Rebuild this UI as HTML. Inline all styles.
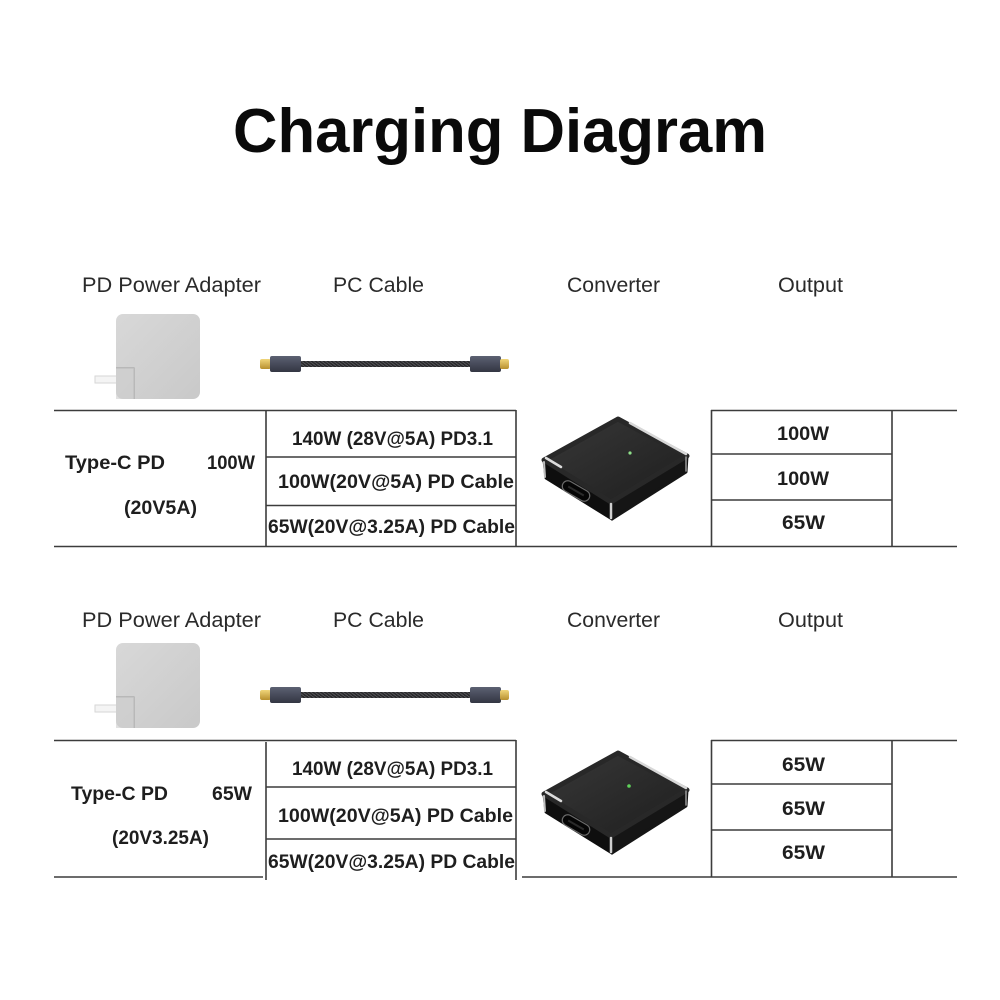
<!DOCTYPE html>
<html>
<head>
<meta charset="utf-8">
<style>
  html,body{margin:0;padding:0;background:#fff;}
  svg{display:block;}
  .hd{font-family:"Liberation Sans",Arial,sans-serif;font-size:21px;fill:#2a2a2a;}
  .bt{font-family:"Liberation Sans",Arial,sans-serif;font-weight:bold;font-size:19px;fill:#1e1e1e;}
  .ln{stroke:#3c3c3c;stroke-width:1.6;fill:none;}
</style>
</head>
<body>
<svg width="1000" height="1000" viewBox="0 0 1000 1000" xmlns="http://www.w3.org/2000/svg">
  <defs>
    <linearGradient id="adg" x1="0" y1="0" x2="1" y2="1">
      <stop offset="0" stop-color="#d8d8d8"/>
      <stop offset="1" stop-color="#c9c9c9"/>
    </linearGradient>
    <linearGradient id="topf" x1="0" y1="0" x2="1" y2="1">
      <stop offset="0" stop-color="#383838"/>
      <stop offset="1" stop-color="#1e1e1e"/>
    </linearGradient>
    <linearGradient id="hous" x1="0" y1="0" x2="0" y2="1">
      <stop offset="0" stop-color="#5c6172"/>
      <stop offset="0.5" stop-color="#474b5a"/>
      <stop offset="1" stop-color="#333642"/>
    </linearGradient>
    <linearGradient id="gold" x1="0" y1="0" x2="0" y2="1">
      <stop offset="0" stop-color="#f0d57a"/>
      <stop offset="1" stop-color="#b8902e"/>
    </linearGradient>
    <pattern id="braid" width="4" height="6" patternUnits="userSpaceOnUse">
      <rect width="4" height="6" fill="#2a2a2c"/>
      <path d="M0 0 L4 3 M0 3 L4 6" stroke="#5a5a5e" stroke-width="0.8"/>
    </pattern>
    <g id="conv">
      <!-- left-front face -->
      <path d="M544 460 L611 502 L612 519 L546 478 Z" fill="#0e0e0e" stroke="#0e0e0e" stroke-width="3" stroke-linejoin="round"/>
      <!-- right face -->
      <path d="M611 502 L687 456 L686 472 L612 519 Z" fill="#151515" stroke="#151515" stroke-width="3" stroke-linejoin="round"/>
      <!-- top face -->
      <path d="M544 460 L618 419 L687 456 L611 502 Z" fill="url(#topf)" stroke="#282828" stroke-width="5" stroke-linejoin="round"/>
      <!-- silver edges -->
      <path d="M630 423 L686 454" stroke="#d8d8d8" stroke-width="2.5" stroke-linecap="round"/>
      <path d="M546 458 L561 467" stroke="#dcdcdc" stroke-width="2.5" stroke-linecap="round"/>
      <path d="M544 462 L545 477" stroke="#bdbdbd" stroke-width="2" stroke-linecap="round"/>
      <path d="M611 504 L611 518" stroke="#cfcfcf" stroke-width="2.5" stroke-linecap="round"/>
      <path d="M686 457 L686 471" stroke="#9a9a9a" stroke-width="1.5" stroke-linecap="round"/>
      <!-- port -->
      <g transform="translate(576 491) rotate(30)">
        <rect x="-15" y="-5.5" width="30" height="11" rx="5.5" fill="#050505" stroke="#6a6a6a" stroke-width="1.2"/>
        <rect x="-9" y="-1" width="18" height="2" fill="#2a2a2a"/>
      </g>
    </g>
  </defs>

  <!-- Title -->
  <text x="233" y="152" font-family="Liberation Sans, Arial, sans-serif" font-weight="bold" font-size="62" fill="#0a0a0a" textLength="534" lengthAdjust="spacingAndGlyphs">Charging Diagram</text>

  <!-- ===== Section 1 ===== -->
  <text class="hd" x="82" y="292" textLength="179" lengthAdjust="spacingAndGlyphs">PD Power Adapter</text>
  <text class="hd" x="333" y="292" textLength="91" lengthAdjust="spacingAndGlyphs">PC Cable</text>
  <text class="hd" x="567" y="292" textLength="93" lengthAdjust="spacingAndGlyphs">Converter</text>
  <text class="hd" x="778" y="292" textLength="65" lengthAdjust="spacingAndGlyphs">Output</text>

  <!-- adapter 1 -->
  <rect x="95" y="376" width="22" height="7" fill="#f4f4f4" stroke="#d6d6d6" stroke-width="1"/>
  <rect x="116" y="314" width="84" height="85" rx="7" fill="url(#adg)"/>
  <path d="M116 368 L134 368 L134 399" stroke="#a9a9a9" stroke-width="1.2" fill="none"/>
  <rect x="116" y="368" width="18" height="31" fill="#cdcdcd" opacity="0.6"/>

  <!-- cable 1 -->
  <rect x="301" y="361" width="169" height="6" fill="url(#braid)"/>
  <rect x="260" y="359" width="11" height="10" rx="2" fill="url(#gold)"/>
  <rect x="270" y="356" width="31" height="16" rx="2" fill="url(#hous)"/>
  <rect x="470" y="356" width="31" height="16" rx="2" fill="url(#hous)"/>
  <rect x="500" y="359" width="9" height="10" rx="2" fill="url(#gold)"/>

  <!-- table 1 lines -->
  <line class="ln" x1="54" y1="410.5" x2="516" y2="410.5"/>
  <line class="ln" x1="711" y1="410.5" x2="957" y2="410.5"/>
  <line class="ln" x1="54" y1="546.5" x2="957" y2="546.5"/>
  <line class="ln" x1="266" y1="410" x2="266" y2="547"/>
  <line class="ln" x1="516" y1="410" x2="516" y2="547"/>
  <line class="ln" x1="266" y1="457" x2="516" y2="457"/>
  <line class="ln" x1="266" y1="505.5" x2="516" y2="505.5"/>
  <line class="ln" x1="711.5" y1="410" x2="711.5" y2="547"/>
  <line class="ln" x1="892" y1="410" x2="892" y2="547"/>
  <line class="ln" x1="711" y1="454" x2="892" y2="454"/>
  <line class="ln" x1="711" y1="500" x2="892" y2="500"/>

  <!-- table 1 text -->
  <text class="bt" x="65" y="469" textLength="100" lengthAdjust="spacingAndGlyphs">Type-C PD</text>
  <text class="bt" x="207" y="469" textLength="48" lengthAdjust="spacingAndGlyphs">100W</text>
  <text class="bt" x="124" y="514" textLength="73" lengthAdjust="spacingAndGlyphs">(20V5A)</text>
  <text class="bt" x="292" y="445" textLength="201" lengthAdjust="spacingAndGlyphs">140W (28V@5A) PD3.1</text>
  <text class="bt" x="278" y="488" textLength="236" lengthAdjust="spacingAndGlyphs">100W(20V@5A) PD Cable</text>
  <text class="bt" x="268" y="533" textLength="247" lengthAdjust="spacingAndGlyphs">65W(20V@3.25A) PD Cable</text>
  <text class="bt" x="777" y="440" textLength="52" lengthAdjust="spacingAndGlyphs">100W</text>
  <text class="bt" x="777" y="485" textLength="52" lengthAdjust="spacingAndGlyphs">100W</text>
  <text class="bt" x="782" y="529" textLength="43" lengthAdjust="spacingAndGlyphs">65W</text>

  <!-- converter 1 -->
  <use href="#conv"/>
  <circle cx="630" cy="453" r="1.6" fill="#8fe08a"/>

  <!-- ===== Section 2 ===== -->
  <text class="hd" x="82" y="627" textLength="179" lengthAdjust="spacingAndGlyphs">PD Power Adapter</text>
  <text class="hd" x="333" y="627" textLength="91" lengthAdjust="spacingAndGlyphs">PC Cable</text>
  <text class="hd" x="567" y="627" textLength="93" lengthAdjust="spacingAndGlyphs">Converter</text>
  <text class="hd" x="778" y="627" textLength="65" lengthAdjust="spacingAndGlyphs">Output</text>

  <!-- adapter 2 -->
  <rect x="95" y="705" width="22" height="7" fill="#f4f4f4" stroke="#d6d6d6" stroke-width="1"/>
  <rect x="116" y="643" width="84" height="85" rx="7" fill="url(#adg)"/>
  <path d="M116 697 L134 697 L134 728" stroke="#a9a9a9" stroke-width="1.2" fill="none"/>
  <rect x="116" y="697" width="18" height="31" fill="#cdcdcd" opacity="0.6"/>

  <!-- cable 2 -->
  <rect x="301" y="692" width="169" height="6" fill="url(#braid)"/>
  <rect x="260" y="690" width="11" height="10" rx="2" fill="url(#gold)"/>
  <rect x="270" y="687" width="31" height="16" rx="2" fill="url(#hous)"/>
  <rect x="470" y="687" width="31" height="16" rx="2" fill="url(#hous)"/>
  <rect x="500" y="690" width="9" height="10" rx="2" fill="url(#gold)"/>

  <!-- table 2 lines -->
  <line class="ln" x1="54" y1="740.5" x2="516" y2="740.5"/>
  <line class="ln" x1="711" y1="740.5" x2="957" y2="740.5"/>
  <line class="ln" x1="54" y1="877" x2="263" y2="877"/>
  <line class="ln" x1="522" y1="877" x2="957" y2="877"/>
  <line class="ln" x1="266" y1="742" x2="266" y2="880"/>
  <line class="ln" x1="516" y1="740" x2="516" y2="880"/>
  <line class="ln" x1="266" y1="787" x2="516" y2="787"/>
  <line class="ln" x1="266" y1="839" x2="516" y2="839"/>
  <line class="ln" x1="711.5" y1="740" x2="711.5" y2="877"/>
  <line class="ln" x1="892" y1="740" x2="892" y2="877"/>
  <line class="ln" x1="711" y1="784" x2="892" y2="784"/>
  <line class="ln" x1="711" y1="830" x2="892" y2="830"/>

  <!-- table 2 text -->
  <text class="bt" x="71" y="800" textLength="97" lengthAdjust="spacingAndGlyphs">Type-C PD</text>
  <text class="bt" x="212" y="800" textLength="40" lengthAdjust="spacingAndGlyphs">65W</text>
  <text class="bt" x="112" y="844" textLength="97" lengthAdjust="spacingAndGlyphs">(20V3.25A)</text>
  <text class="bt" x="292" y="775" textLength="201" lengthAdjust="spacingAndGlyphs">140W (28V@5A) PD3.1</text>
  <text class="bt" x="278" y="822" textLength="235" lengthAdjust="spacingAndGlyphs">100W(20V@5A) PD Cable</text>
  <text class="bt" x="268" y="868" textLength="247" lengthAdjust="spacingAndGlyphs">65W(20V@3.25A) PD Cable</text>
  <text class="bt" x="782" y="771" textLength="43" lengthAdjust="spacingAndGlyphs">65W</text>
  <text class="bt" x="782" y="815" textLength="43" lengthAdjust="spacingAndGlyphs">65W</text>
  <text class="bt" x="782" y="859" textLength="43" lengthAdjust="spacingAndGlyphs">65W</text>

  <!-- converter 2 -->
  <use href="#conv" transform="translate(0 334)"/>
  <circle cx="629" cy="786" r="1.8" fill="#5fd35a"/>
</svg>
</body>
</html>
